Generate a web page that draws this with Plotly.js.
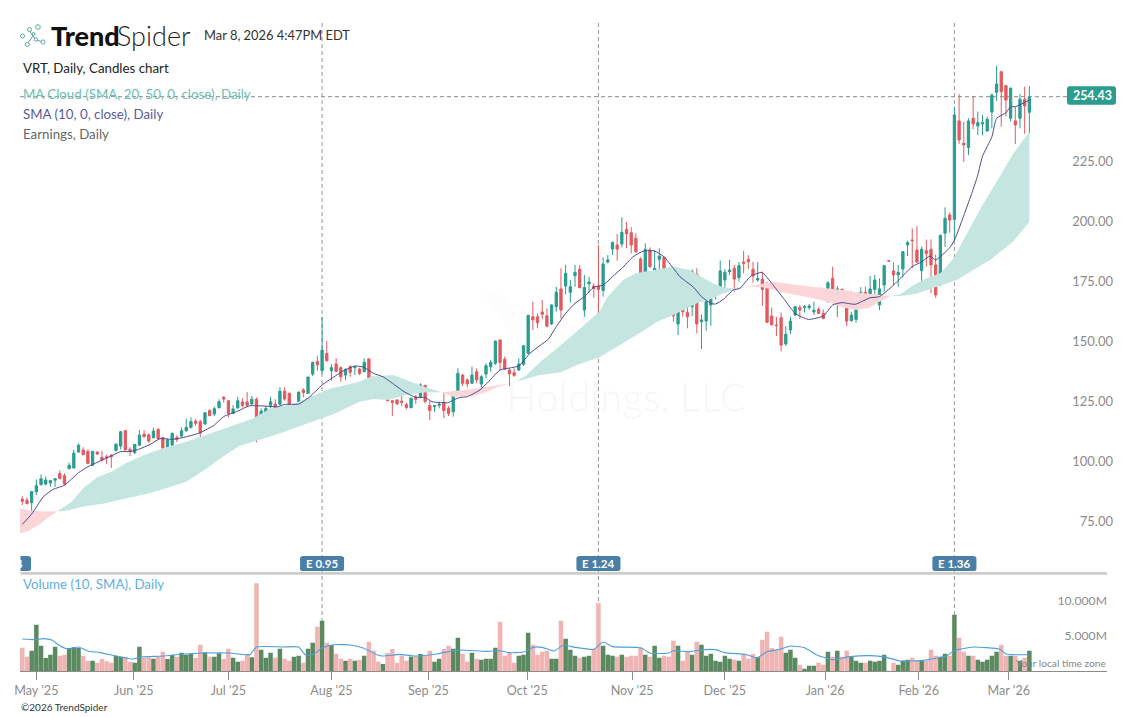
<!DOCTYPE html>
<html><head><meta charset="utf-8">
<script src="https://cdn.plot.ly/plotly-3.0.1.min.js"></script>
<style>html,body{margin:0;padding:0;background:#fff}#c{width:1137px;height:717px}</style>
</head><body><div id="c"></div>
<script>
const opens=[84.1,83.6,82.6,87.2,90.1,90.4,90.8,92,94.8,93.9,
96.8,97.1,103.7,104.6,104,98.2,103.7,101.5,101.8,102.5,
104.4,106.2,112.6,104.8,103.5,106.6,111.2,110.9,109.7,113.2,
109.8,105.5,106.6,109.7,110.4,112.6,114,116.6,116.4,115.4,
121,119.6,122.2,126.5,125.1,119.8,122.1,124.6,124.6,123.7,
125.7,116,119.3,123.2,123.7,123.6,129.1,128.2,121.7,124.8,
129.6,128.2,136.2,141.5,137.6,144.8,137.6,140.4,138.9,135.8,
139.3,138.9,138.3,137.2,142.5,134.9,131,131.2,132.4,125.1,
125.4,124.9,123.5,122.2,126.8,126.8,131.5,123.1,122.6,123.2,
124.4,122,120.5,129.3,135.8,133.8,132.4,137.2,132.1,136.2,
139.3,140.7,150.4,142.4,137.9,136.8,137.9,140.3,144.9,160.1,
160.1,162.1,160.5,157.1,164.3,171.7,172.9,170.3,177.2,179.9,
162.9,173.8,172.9,172.9,171,182.9,188.3,190,190.4,196.5,
195.1,192.8,184.2,176.5,187.9,177.9,184,184.9,178.2,169.9,
157.1,171,161.9,164.3,177.9,158,158.3,165,169.2,171.3,
175.4,178.9,180.3,176.4,182.9,184,179.9,175.4,175.8,172.4,
160.4,156.7,159.7,148.8,154.6,160.8,163.9,163.9,163.9,162.1,
163.3,161.5,166.4,176.1,168.5,171.5,168.75,158.5,159,167.1,
170.3,168.9,171.5,165,173.3,183.5,179.2,177.5,180,190,
192.1,187.9,179.3,187.6,188.2,181.7,174.7,194.9,202.5,200.7,
241.7,232.4,230.6,242.8,239.6,240.4,237.5,245.4,253.6,262.2,
256.4,242.8,241.7,242.8,250.7,245.3];
const highs=[85.4,84.8,87.5,92.3,94.4,93.5,92,92.8,96.1,94.8,
99.3,104.8,107.3,105.7,104.8,104,104.1,104.3,102.5,102.8,
107.3,112.6,112.9,105.7,107,112.9,112.9,111.5,113.9,113.6,
110.1,109.4,111.9,110.8,114,117.6,118.2,117.5,117.1,120.3,
121.6,122.6,125.7,127.1,125.4,123.3,126.8,126.1,128.7,127.1,
126.5,121.9,122.9,126.8,125.7,130.7,130.7,128.5,123.6,128.9,
130.3,135.1,141.4,143.7,160,150,140.4,142.8,139.3,138.6,
140,139.6,138.9,142.8,142.8,134.9,131,134.4,133.5,125.4,
125.8,128.5,124.3,126.5,127.5,132.4,131.7,125.1,123.3,124.7,
128.2,122.9,128.5,138.6,136.2,134.4,139.3,138.6,135.8,140.7,
142.1,150.1,150.7,143.5,138.6,138.6,142.8,148.3,160.8,166.4,
161.5,167.1,163.6,165.3,172.6,180.3,181.7,175.4,181.7,181.7,
177.5,176.8,174,190,184.9,185.8,191.4,194.6,201.5,199.7,
197.4,194.9,184.9,190.7,189,187.9,188.6,185.1,180.3,170.5,
173.3,171.9,166.4,179.9,180.3,161.1,169.2,168,172.9,183.5,
179.9,183.75,181.7,183,187.6,185.8,183,182.8,178.9,174.7,
164,160.1,161.8,156.2,160.1,164.6,165,165,165.4,166.4,
164,163.2,175,181,172.9,171.9,169.2,162.2,168.75,172.4,
172.6,177.1,177.5,176.1,181.7,183.7,182.8,181.7,187.5,191.8,
196.9,197.9,189.3,192.3,192.3,186,194.4,205.7,203.6,247.6,
252.9,241.4,242.8,252.1,245.6,244.2,243.5,253.2,264.6,262.6,
256.7,255.7,247.6,252.9,256,256.2];
const lows=[81.6,82.1,77.5,85.8,89.8,89.8,89.3,89.3,92.5,89.7,
96.6,96.9,103.5,102.5,98.7,97.9,102.5,99.7,98.7,97.1,
103.9,104.8,104.3,102.1,102.9,106.2,109.8,107.6,109.4,109,
105,104.6,106.2,107.9,109.8,112.2,113.6,114.6,109.8,115.3,
118.7,118.7,121.9,124.3,118.2,119.6,121.9,122.3,122.6,123.6,
107.8,114.7,119.1,121.9,120.1,123.3,125.1,123.2,116.5,124,
126.5,127.9,135.4,137.6,136,141.4,133.5,137.2,133,133.7,
135.1,135.8,135.8,137.2,131.2,129.3,126.5,129.3,125,118.8,
123.3,122.9,121.5,122,123.8,126.1,124,117.1,120.5,121.9,
117.8,118.8,118.5,128.9,131.2,130.7,132.1,132.4,130.3,134.4,
137.2,140,137.9,137.9,131.2,135.1,137.6,139.6,144.6,154.6,
155.3,159,155.7,156.7,162.2,159.4,169.4,166,172.6,172,
160.1,169.9,168,159.9,168.5,182.4,185.8,183.5,189,188.6,
186.5,186.8,173.6,176.5,180.3,167.1,180,176.1,169.9,158.1,
152.5,160.1,155.3,160.4,153.2,146.7,154.3,156.3,167.4,169.6,
171.9,177.5,170.5,174.8,178.2,179.9,174.3,174.7,164.6,157.4,
156.7,152.1,145.6,147.9,152.9,160.4,159.2,161.8,162.9,160.8,
161.2,159,166,167.8,159.9,164.6,156.2,158,157.6,166.4,
164.6,168,169.2,162.9,170.5,183.2,173.3,172.6,176.5,185.4,
180.3,182.6,174.3,181,169.9,168,172.9,189.3,195.1,192,
232.1,224.7,227.5,238.2,235.8,235.8,237.2,238.6,250.1,239.3,
243.5,241.4,232.1,238.6,236.3,236.5];
const closes=[83.2,82.2,87.3,89.7,92.6,92.1,91.9,92.6,92.6,90.4,
98.2,103.3,106.6,102.6,99,104,102.9,100.4,101.2,101.8,
107,112.2,104.6,104.1,106.9,110.8,110.1,108.3,112.5,109.3,
105.3,108.7,111.5,109,112.6,114,116.4,115.7,111.8,120.1,
118.9,121.8,124.7,125.8,119.8,121.7,125.1,123.2,123.2,125.7,
117.6,120.8,121.9,124.7,122.3,129.1,125.8,123.6,123.6,128.7,
128.5,135,141.1,140.1,146.2,141.8,138.9,137.3,135.1,138.2,
137,139.3,136.5,141.1,134.7,129.6,130.1,133.8,125.1,124.4,
123.8,124.4,122.3,126.1,125.7,131.7,124.9,121,123.1,123.7,
121,119.8,127.5,136.5,132.4,132.1,135.8,133.8,135.1,139.7,
141.1,150,141,138.3,136.3,135.7,140.4,148,160.7,158.8,
157.6,161.1,156.2,165,170.3,162.9,178.2,172.6,178.6,172.2,
172.3,174.6,171.8,171.5,182.1,183.8,191.1,188.3,195.3,194.6,
190,187.2,174,188.2,181,180.3,185.4,176.5,170.5,160.5,
169.9,162.2,160.1,178.9,157.1,158.8,166.4,167.5,170.3,179.2,
178.6,179.6,175.8,181.4,182.4,183,177.1,176.1,171.5,157.8,
156.7,156.4,148.3,152.8,158.3,164.3,162.9,164.3,164.6,162.8,
161.5,159.4,174.2,168.75,171.7,168.75,158.3,160.8,164.6,170.3,
167.1,171.7,175.4,171.7,181.4,183.3,177.5,178.6,187.2,191,
191.8,182.9,188.2,186.5,181.7,169.2,194,201.1,200.4,244.2,
233.75,231.7,241.7,240.4,241,241,242.4,252.4,257.1,253.9,
250.4,255.3,240,250.7,247.9,251.8];
const volumesM=[3.33,2.05,2.9,6.62,3.62,1.86,2.33,3.48,2.19,2.33,
3.29,3.38,3.29,2.19,1.48,1.48,1.19,1.71,1.38,1.19,
2.19,2.05,2.05,1.33,1.19,3.48,1.86,1.95,1.76,2.05,
2.76,1.71,2.29,2.05,2.62,2.33,2.43,1.86,3.76,2.67,
2.05,2.05,2.52,1.71,3.19,1.9,1.33,1.48,2.43,1.95,
12.52,3.05,1.9,2.62,1.9,3.19,1.76,1.48,2.05,2.19,
1.19,3.19,4.05,6.33,7.19,4.05,3.67,2.48,1.76,1.48,
1.76,1.48,1.62,2.19,4.19,2.9,1.33,1.0,2.57,3.14,
1.19,2.19,1.48,2.05,2.1,2.43,2.19,2.9,1.33,1.76,
3.14,3.62,3.19,4.76,2.48,1.33,2.62,1.76,1.62,1.76,
1.76,3.33,7.05,2.19,2.62,1.19,2.19,2.33,5.48,3.76,
2.33,2.76,2.9,1.76,1.76,7.19,4.62,3.05,2.19,1.9,
2.05,2.19,3.19,9.67,3.62,2.33,2.19,2.05,2.33,2.05,
2.19,2.19,3.33,2.33,2.05,3.62,1.9,2.19,2.05,4.33,
3.62,1.48,2.9,2.33,4.19,3.76,2.19,2.48,1.48,1.33,
2.19,1.76,1.62,1.48,2.43,1.76,2.43,1.95,4.48,5.62,
3.29,3,4.9,2.62,3.05,1.9,0.9,0.33,0.76,0.76,
1.19,0.9,2.76,2.05,2.9,2.05,2.9,2.05,1.48,1.19,
1.19,1.48,1.33,1.48,2.33,0.04,1.19,0.9,1.48,1.62,
1.9,1.48,1.57,1.48,3.05,2.19,2.05,2.48,2.19,8.05,
4.76,2.76,2.19,2.19,1.62,1.33,1.62,2.19,2.76,3.76,
2.19,2.19,2.19,1.48,1.9,2.9];
const volumeKinds=("ppggggggpp"+"gggppgpppp"+"ggppggppgp"+"pggpgggppg"+"pggppggppg"+"pgggpgppgg"+"pggpgpgppg"+"pgpgpppgpp"+"pppgpgppgg"+"ppggppgpgg"+"ggppppgggp"+"pppggpgggp"+"ggppgggpgp"+"pppgpggppp"+"gppgpggggg"+"ggpgpppgpp"+"pppgggpggg"+"ppgpgppggg"+"pggggppggg"+"ppgpppggpg"+"ppgpgggggp"+"pgpgpg").split("");

const sma10Idx=[0,2,4.5,6.6,9,12,14,16.6,19,21,23,25,27.3,29.4,32,35,38,41,43,46,48.5,51.6,54.5,56,59,61.4,64,66,68.6,71,73,75,77,79.5,81.5,84,86,87.5,91,92,93.5,95,97.7,99.5,102,104.5,106,108.4,110.5,112.3,114,116,118,120,122,124,126,128,130.4,132.6,135,137,139,140.4,143.3,145,147,148,149.7,151.8,153.2,155.4,157.9,160,162.5,165,167.8,171,173,175,177.8,181,183,186,190,192,193.8,195,198,199,202.7,204,205,207,208,210,211,212,215];
const sma10Val=[73.6,77.9,85.1,88.2,89.9,95.1,97.6,100,102.1,103.9,103.9,105,106.9,109.3,109,110.1,111.8,115,118.5,120.8,123,122.9,122.6,123.6,123.7,126.8,131.7,134.4,137.6,139.6,139,136.5,135.1,131.7,128.9,126.5,126.5,124.7,124.3,125.4,126.5,126.8,129.6,133,137.9,138.9,139.6,144.9,148.1,150.7,156,161.5,165.7,168.5,172.4,173.3,176.8,180.3,185.1,187.5,187.5,185.1,180.3,176.8,172.4,168.5,165.7,165.4,167.4,171.3,171.9,176.8,178.6,174,167.8,161.5,159,160.4,165,166,165.3,168,168.5,173.3,181,183,185.4,183.75,188.9,192,211.5,219.2,227,235.1,242.8,245.1,247.6,247.6,250.4];

const pink1TopIdx=[-0.5,2,4.7,7.5], pink1TopVal=[80.2,79.3,79,79.1];
const pink1BotIdx=[-0.5,1.5,3.7,5.5,7.5], pink1BotVal=[69.8,71,73.6,76.5,79.1];
const teal1TopIdx=[7.5,10.5,13,16,19,22,26,30,35,39,42,45,49,53,58,61.5,66,72,74.3,79.2,82,85.6,89.5];
const teal1TopVal=[79.1,83,88.6,93.2,95.5,99,102.5,105.3,108,110.8,112.9,115,117.5,121.9,124,126.8,130.3,133,135.1,135.8,133.8,131,128.6];
const teal1BotIdx=[7.5,9.5,13,17.5,22,27,31,35,39,42.8,46.3,49.7,54,58,62.3,66.5,72,75,78,82,85.6,89.5];
const teal1BotVal=[79.1,79.3,81,82.3,84.4,86.5,88.9,91.4,96.5,101.8,106.2,108.3,110.8,113.6,116.6,119.6,124.7,125.8,125.4,127.5,128.5,128.6];
const pink2TopIdx=[89.5,96,99.5,103,104], pink2TopVal=[128.6,129.9,131,132.1,132.3];
const pink2BotIdx=[89.5,92,96.4,99.2,101.3,103,104], pink2BotVal=[128.6,126.8,127.1,128.9,130.7,131.9,132.3];
const teal2TopIdx=[104,105,107.7,110.5,114,118,123.2,125,128.3,131,139,142.5,147.5,149.7,151.8,154.7];
const teal2TopVal=[132.3,132.6,135.8,141.1,146.7,153.2,162.2,168.5,175.4,178.2,181,179.6,174,172.4,171.9,172.7];
const teal2BotIdx=[104,110.5,115,118.4,123.2,128,132.3,135.5,139,144,147.5,149.7,151.8,154.7];
const teal2BotVal=[132.3,135.8,137,140,143.2,148.8,153.9,158,160.8,165.7,167.8,169.9,171.2,172.7];
const pink3TopIdx=[154.7,160.4,165.4,169,172.4,176,179.6,185.3];
const pink3TopVal=[172.7,174.7,173.3,172.6,171.9,171,169.9,168.75];
const pink3BotIdx=[154.7,158,161.8,165.4,168.9,171.8,175.3,178,180.9,183,185.3];
const pink3BotVal=[172.7,172.4,170.5,169.2,167.8,166.4,164,162.9,164,166.4,168.75];
const teal3TopIdx=[185.3,187.4,190.3,193,196,198.8,200.9,205,208.7,211.6,215];
const teal3TopVal=[168.75,169.4,173.3,176.1,178.2,184.4,192,206.7,218.5,228.2,237.2];
const teal3BotIdx=[185.3,187.4,190.7,195,199.5,203,206.6,211.6,214.4,215];
const teal3BotVal=[168.75,168.75,169.6,172.4,175.4,179.6,183.75,191.5,198,199.7];

const volSmaIdx=[0,2.3,4.5,6.3,8,9.8,12,14,16.6,20,23.7,25.5,30,34.4,39.4,44.3,48.6,50,55.7,59,60.4,62,64,66.4,70,72.8,75.7,77,80.6,83.5,88.5,93,99,102,104,107,109,111,113.5,115.5,118,122,124,126,132,134,138,139,142.5,145.4,148,150,154.6,156.8,159,161.8,164,167,169.5,173,176.7,181,184.5,187.4,192.4,197.4,199,203,208.7,210,215];
const volSmaVal=[4.57,4.48,4.62,4.43,3.62,3.14,3.43,2.86,2.62,2.14,1.71,2,2.14,2.43,2.57,2.57,2.33,3.43,3.43,3.43,2.33,2.33,3.29,3.76,3.71,3.29,2.33,2.14,2.38,2.14,2.43,3,2.81,2.9,2.62,2.71,3.38,3.38,2.86,3.67,3.38,3.1,4.14,3.48,3.33,2.57,2.57,2.9,2.76,3.05,3.05,2.62,2.33,1.86,2.76,3.1,3.57,3.33,2.33,1.62,2.05,2.19,1.95,1.43,1.52,2.19,2.9,3.43,3.1,2.43,2.33];

const priceTicks=[75,100,125,150,175,200,225];
const priceTickText=["75.00","100.00","125.00","150.00","175.00","200.00","225.00"];
const volumeTicks=[0,5,10];
const volumeTickText=["0","5.000M","10.000M"];
const monthTicks=[3,23.8,44,66,86.7,107.8,130.2,150,171.4,191.4,210.6];
const monthLabels=["May '25","Jun '25","Jul '25","Aug '25","Sep '25","Oct '25","Nov '25","Dec '25","Jan '26","Feb '26","Mar '26"];
const earnIdx=[64,123,199];
const earnLabels=["E 0.95","E 1.24","E 1.36"];
const lastPriceLabel="254.43";

const TEAL="#2a9d8f",RED="#e25a5f",CLOUD_T="#c5e5e1",CLOUD_P="#fbd5d8",GREY="#8c8c8c",VG="#5b8a60",VP="#f0b4b4";
const L=20,R=1107,T=20,B=671;
const xp=x=>(x-L)/(R-L), yp=y=>(B-y)/(B-T);
const idxs=opens.map((_,i)=>i);

function cloud(topX,topY,botX,botY,color){
  return [
    {type:'scatter',mode:'lines',x:botX,y:botY,line:{width:0,color:color},hoverinfo:'skip',showlegend:false,xaxis:'x',yaxis:'y'},
    {type:'scatter',mode:'lines',x:topX,y:topY,line:{width:0,color:color},fill:'tonexty',fillcolor:color,hoverinfo:'skip',showlegend:false,xaxis:'x',yaxis:'y'}
  ];
}
const traces=[].concat(
  cloud(pink1TopIdx,pink1TopVal,pink1BotIdx,pink1BotVal,CLOUD_P),
  cloud(teal1TopIdx,teal1TopVal,teal1BotIdx,teal1BotVal,CLOUD_T),
  cloud(pink2TopIdx,pink2TopVal,pink2BotIdx,pink2BotVal,CLOUD_P),
  cloud(teal2TopIdx,teal2TopVal,teal2BotIdx,teal2BotVal,CLOUD_T),
  cloud(pink3TopIdx,pink3TopVal,pink3BotIdx,pink3BotVal,CLOUD_P),
  cloud(teal3TopIdx,teal3TopVal,teal3BotIdx,teal3BotVal,CLOUD_T),
  [{type:'candlestick',x:idxs,open:opens,high:highs,low:lows,close:closes,xaxis:'x',yaxis:'y',
    increasing:{line:{color:TEAL,width:1},fillcolor:TEAL},decreasing:{line:{color:RED,width:1},fillcolor:RED},
    whiskerwidth:0,hoverinfo:'skip',showlegend:false},
   {type:'scatter',mode:'lines',x:sma10Idx,y:sma10Val,line:{color:'#4a4a92',width:1,shape:'spline',smoothing:0.5},hoverinfo:'skip',showlegend:false,xaxis:'x',yaxis:'y'},
   {type:'bar',x:idxs,y:volumesM,width:0.96,marker:{color:volumeKinds.map(k=>k==='g'?VG:VP),line:{width:0}},hoverinfo:'skip',showlegend:false,xaxis:'x',yaxis:'y2'},
   {type:'scatter',mode:'lines',x:volSmaIdx,y:volSmaVal,line:{color:'#4f9fdc',width:1.1,shape:'spline',smoothing:0.5},hoverinfo:'skip',showlegend:false,xaxis:'x',yaxis:'y2'}]
);

function rounded(x0,x1,y0,y1,rx,ry){
  return `M${x0+rx},${y0} L${x1-rx},${y0} Q${x1},${y0} ${x1},${y0+ry} L${x1},${y1-ry} Q${x1},${y1} ${x1-rx},${y1} L${x0+rx},${y1} Q${x0},${y1} ${x0},${y1-ry} L${x0},${y0+ry} Q${x0},${y0} ${x0+rx},${y0} Z`;
}
const FONT="Lato";
const shapes=[];
earnIdx.forEach(i=>shapes.push({type:'line',xref:'x',yref:'paper',x0:i,x1:i,y0:0,y1:1,layer:'below',line:{color:'#999',width:1,dash:'4px,3px'}}));
const lastClose=closes[closes.length-1];
shapes.push({type:'line',xref:'paper',yref:'y',x0:0,x1:xp(1067),y0:lastClose,y1:lastClose,layer:'above',line:{color:'#8a8a8a',width:1,dash:'4px,3px'}});
shapes.push({type:'rect',xref:'paper',yref:'paper',x0:0,x1:1,y0:yp(574.7),y1:yp(572),fillcolor:'#cccccc',line:{width:0}});
// earnings badges
const BW=4.7;
earnIdx.forEach(i=>shapes.push({type:'path',xref:'x',yref:'paper',path:rounded(i-BW,i+BW,yp(571),yp(556),0.7,0.004),fillcolor:'#4a80a8',line:{width:0},layer:'above'}));
shapes.push({type:'path',xref:'paper',yref:'paper',path:rounded(xp(9),xp(31),yp(571),yp(556),0.003,0.004),fillcolor:'#4a80a8',line:{width:0},layer:'above'});
shapes.push({type:'rect',xref:'paper',yref:'paper',x0:xp(0),x1:xp(20.5),y0:yp(575),y1:yp(550),fillcolor:'#fff',line:{width:0},layer:'above'});
// price badge
shapes.push({type:'path',xref:'paper',yref:'paper',path:rounded(xp(1067),xp(1116),yp(104.7),yp(86.3),0.002,0.004),fillcolor:'#2a9d8f',line:{width:0},layer:'above'});
// faint company mark behind the chart
shapes.push({type:'path',xref:'paper',yref:'paper',layer:'below',fillcolor:'rgba(0,0,0,0.009)',line:{width:0},
  path:`M${xp(483)},${yp(293)} L${xp(500)},${yp(293)} L${xp(545)},${yp(345)} L${xp(600)},${yp(300)} L${xp(615)},${yp(300)} L${xp(550)},${yp(362)} L${xp(530)},${yp(362)} Z`});
// logo nodes
const logoLinks=[[29.5,31,33,36],[33,36,28,43],[33,36,36,39.5],[36,39.5,41,41.5]];
logoLinks.forEach(s=>shapes.push({type:'line',xref:'paper',yref:'paper',x0:xp(s[0]),y0:yp(s[1]),x1:xp(s[2]),y1:yp(s[3]),line:{color:'#5aa99c',width:1}}));
const logoNodes=[[22.5,36,2],[29.5,29.5,2],[38,27,2.3],[33.5,34,1.5],[36,39.5,1.7],[43,42,2.1],[27.3,44.3,2.1]];
logoNodes.forEach(n=>shapes.push({type:'circle',xref:'paper',yref:'paper',x0:xp(n[0]-n[2]),x1:xp(n[0]+n[2]),y0:yp(n[1]-n[2]),y1:yp(n[1]+n[2]),fillcolor:'#fff',line:{color:'#5aa99c',width:1}}));

function note(text,x,y,size,color,opts){
  return Object.assign({xref:'paper',yref:'paper',x:xp(x),y:yp(y),text:text,showarrow:false,xanchor:'left',yanchor:'middle',
    font:{family:FONT,size:size,color:color},borderpad:0},opts||{});
}
const annotations=[
  note('Trend',49.5,35.5,27,'#111',{font:{family:FONT,size:27,color:'#111',weight:900}}),
  note('Spider',116,35.5,27,'#222',{font:{family:FONT,size:27,color:'#222',weight:300}}),
  note('Mar 8, 2026 4:47PM EDT',203,35,12.9,'#333'),
  note('VRT, Daily, Candles chart',21.5,68,13.3,'#222'),
  note('MA Cloud (SMA, 20, 50, 0, close), Daily',21.5,93.5,13.3,'#6cc0b2'),
  note('SMA (10, 0, close), Daily',21.5,114,13.3,'#5a5a9e'),
  note('Earnings, Daily',21.5,134,13.3,'#666'),
  note('Volume (10, SMA), Daily',21.5,584,13.3,'#62aee6'),
  note('©2026 TrendSpider',20,707.5,10,'#333'),
  note('Your local time zone',1107,663,10.2,'#888',{xanchor:'right'}),
  note('Holdings, LLC',505,397,40,'rgba(0,0,0,0.028)'),
  note(lastPriceLabel,1092,95.5,12.4,'#fff',{xanchor:'center',font:{family:FONT,size:12.4,color:'#fff',weight:700}}),
  note('4',24,563.5,11.5,'#fff',{xanchor:'right',font:{family:FONT,size:11.5,color:'#fff',weight:700}})
];
earnIdx.forEach((i,k)=>annotations.push({xref:'x',yref:'paper',x:i,y:yp(563.5),text:earnLabels[k],showarrow:false,xanchor:'center',yanchor:'middle',font:{family:FONT,size:11.5,color:'#fff',weight:700}}));

const layout={
  width:1137,height:717,paper_bgcolor:'#fff',plot_bgcolor:'#fff',showlegend:false,
  margin:{l:L,r:1137-R,t:T,b:717-B,pad:0},
  barmode:'overlay',
  font:{family:FONT,color:GREY},
  xaxis:{anchor:'y2',domain:[0,1],range:[(L-22.3)/4.684,(R-22.3)/4.684],tickmode:'array',tickvals:monthTicks,ticktext:monthLabels,
    ticks:'outside',ticklen:8,tickcolor:'#8c8c8c',tickwidth:1,showline:true,linecolor:'#8c8c8c',linewidth:1,showgrid:false,zeroline:false,
    tickfont:{family:FONT,size:12.6,color:GREY},rangeslider:{visible:false},fixedrange:true},
  yaxis:{domain:[yp(574.7),1],range:[75+(521-574.7)/2.4,75+(521-T)/2.4],side:'right',tickmode:'array',tickvals:priceTicks,ticktext:priceTickText,
    ticklabelposition:'inside',ticklabelstandoff:-9,ticks:'',showgrid:false,zeroline:false,showline:false,
    tickfont:{family:FONT,size:13,color:GREY},fixedrange:true},
  yaxis2:{domain:[0,yp(574.7)],range:[0,(B-574.7)/7],side:'right',tickmode:'array',tickvals:volumeTicks,ticktext:volumeTickText,
    ticklabelposition:'inside',ticklabelstandoff:-3,ticks:'',showgrid:false,zeroline:false,showline:false,
    tickfont:{family:FONT,size:12.2,color:GREY},fixedrange:true},
  shapes:shapes,annotations:annotations
};
Plotly.newPlot('c',traces,layout,{staticPlot:true,displayModeBar:false});
</script></body></html>
